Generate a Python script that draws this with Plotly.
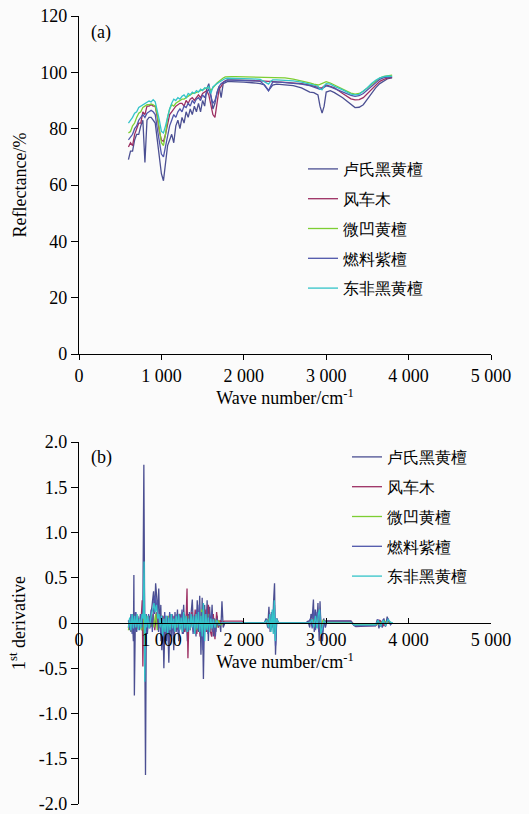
import plotly.graph_objects as go

# ---------------- data: (a) reflectance ----------------
wave = [600, 625, 650, 675, 700, 725, 750, 775, 800, 825, 850, 875, 900, 925, 950, 975,
        1000, 1025, 1050, 1075, 1100, 1125, 1150, 1175, 1200, 1225, 1250, 1275, 1300, 1325,
        1350, 1375, 1400, 1425, 1450, 1475, 1500, 1525, 1550, 1575, 1600, 1625, 1650, 1675,
        1700, 1725, 1750, 1775, 1800,
        1850, 1900, 2000, 2100, 2200, 2250, 2300, 2325, 2350, 2400, 2500, 2600, 2700, 2800,
        2850, 2900, 2925, 2950, 2975, 3000, 3050, 3100, 3200, 3300, 3350, 3400, 3450, 3500,
        3550, 3600, 3650, 3700, 3750, 3800]

refl_lushi = [69, 72, 72, 76, 78, 78, 81, 83, 68, 83, 84, 84, 83, 82, 76, 70,
              64, 61.5, 68, 74, 76, 78, 75, 81, 83, 80, 84, 82, 86, 84,
              87, 85, 88, 86, 89, 86, 90, 88, 94, 96, 92, 87, 89, 93,
              95, 91, 96, 96.5, 96.7,
              96.7, 96.7, 96.5, 96.3, 96.0, 95.5, 93.5, 94.5, 95.5, 95.8, 95.5, 95.3, 94.5, 93,
              92.8, 92, 88, 85.5, 88, 93, 93.5, 92.8, 91, 88.5, 87.5, 87.6, 88.5, 90.5,
              92.5, 94.5, 96, 97, 97.8, 98]

refl_fengche = [73.5, 75, 74, 78, 80, 82, 82, 86, 85, 88, 88, 88.5, 88, 88, 84, 79,
                76, 75.5, 78, 82, 85, 86, 87, 88, 88.5, 89, 89, 88, 90, 89,
                90.5, 91, 90, 91, 92, 91, 92.5, 93, 93.5, 92, 89, 85, 84, 90,
                94, 95, 96.5, 97, 97.3,
                97.3, 97.3, 97.2, 97.1, 97, 96.8, 96.8, 96.8, 96.7, 96.6, 96.4, 96.2, 96, 95.5,
                95, 94.5, 94.5, 94.6, 95, 95.5, 95, 94.5, 92.5, 90.6, 90.2, 90.3, 91, 92.5,
                94, 95.5, 96.8, 97.5, 98, 98.2]

refl_weiao = [78.5, 79, 81, 82, 84, 85.5, 86, 87.5, 88, 88.5, 88.5, 88.8, 88.5, 88, 85, 80,
              75, 74, 78, 84, 87, 88.5, 88, 89, 89.5, 90, 90.5, 90.5, 91, 91.5,
              92, 92.5, 92.5, 93, 93.2, 93.5, 93.8, 94.2, 94.5, 94.5, 93.5, 94.5, 95.5, 96.2,
              96.8, 97.5, 98, 98.4, 98.5,
              98.5, 98.5, 98.4, 98.4, 98.3, 98.3, 98.3, 98.3, 98.3, 98.2, 98, 97.6, 97, 96.3,
              95.8, 95.5, 95.7, 96, 96.5, 96.7, 96.2, 95.5, 94, 92.6, 92.3, 92.5, 93.3, 94.5,
              95.8, 97, 98, 98.6, 98.9, 99]

refl_ranliao = [76, 77, 78, 80, 81, 83, 84, 85, 84, 85.5, 86, 86.5, 86, 85, 80, 75,
                71, 70, 74, 78, 81, 83, 85, 84, 86, 87, 86, 88, 87.5, 89,
                88, 90, 89, 90.5, 91, 90, 92, 91, 93, 94, 91, 89, 90, 93,
                95, 96, 96.5, 97, 97.2,
                97.2, 97.2, 97.1, 97, 96.8, 95.5, 93.5, 95, 96.5, 96.6, 96.4, 96.1, 95.8, 95.3,
                94.8, 94.3, 94, 94.2, 94.6, 95.2, 94.8, 94.2, 93, 91.8, 91.5, 91.7, 92.5, 93.8,
                95.2, 96.5, 97.5, 98.1, 98.4, 98.5]

refl_dongfei = [82, 83, 84, 85.5, 86, 87.5, 88, 88.5, 89, 89.5, 89.8, 89.5, 90.3, 89.5, 86.5, 83,
                79, 78.5, 81, 84.5, 87, 89, 90.5, 90, 91, 90.5, 91.5, 92, 91, 92.5,
                92, 93, 92.5, 93.5, 93, 94, 93.5, 94.5, 94.3, 95, 92.5, 94.8, 95.5, 96,
                96.5, 97, 97.5, 97.8, 97.9,
                97.9, 97.9, 97.8, 97.7, 97.5, 96.5, 95.8, 96.8, 97.3, 97.3, 97.2, 97, 96.5, 96,
                95.5, 95, 94, 93.8, 95.2, 96, 95.8, 95, 93.8, 92.3, 92, 92.2, 93.2, 94.5,
                96, 97.2, 98, 98.5, 98.7, 98.6]

# ---------------- data: (b) first derivative (wave number, value) ----------------
deriv_lushi = [(600, -0.05), (615, 0.05), (630, -0.1), (645, 0.1), (660, -0.2), (666, 0.53),
               (672, -0.8), (685, 0.12), (700, -0.1), (715, 0.08), (730, -0.05), (745, 0.1),
               (760, -0.08), (775, 0.15), (787, 1.75), (797, 0.2), (807, -1.68), (817, 0.1),
               (830, -0.12), (845, 0.08), (860, -0.06), (875, 0.1), (890, 0.2), (905, 0.35),
               (918, 0.1), (930, 0.44), (942, 0.3), (955, 0.1), (968, 0.38), (980, -0.05),
               (993, 0.2), (1005, -0.3), (1018, 0.05), (1030, -0.5), (1045, 0.08), (1060, -0.2),
               (1075, 0.05), (1090, -0.44), (1105, 0.1), (1120, -0.15), (1135, 0.08), (1150, -0.3),
               (1165, 0.12), (1180, -0.1), (1195, 0.15), (1210, -0.2), (1225, 0.1), (1240, 0.05),
               (1255, -0.12), (1270, 0.2), (1285, -0.1), (1300, 0.08), (1315, -0.2), (1330, 0.1),
               (1345, -0.05), (1360, 0.12), (1375, 0.26), (1390, -0.1), (1405, 0.05), (1420, -0.15),
               (1435, 0.25), (1450, -0.1), (1465, 0.3), (1480, -0.35), (1495, 0.28), (1510, -0.62),
               (1525, 0.2), (1540, -0.1), (1555, 0.25), (1570, -0.2), (1585, 0.18), (1600, -0.08),
               (1615, 0.2), (1630, -0.15), (1645, 0.05), (1660, -0.1), (1675, 0.08), (1690, -0.05),
               (1705, 0.02), (1720, -0.1), (1735, 0.24), (1750, -0.05), (1770, 0.0), (1800, 0.0),
               (2250, 0.0), (2270, 0.05), (2290, -0.05), (2305, 0.18), (2320, -0.1), (2335, 0.12),
               (2350, -0.05), (2362, 0.25), (2373, 0.44), (2385, -0.35), (2400, 0.05), (2420, 0.0),
               (2750, 0.0), (2780, 0.02), (2800, -0.05), (2815, 0.1), (2830, 0.05), (2845, 0.26),
               (2855, -0.1), (2870, 0.15), (2885, -0.05), (2900, 0.22), (2915, -0.2), (2925, 0.24),
               (2940, -0.15), (2955, -0.2), (2970, 0.05), (2990, -0.05), (3010, 0.02), (3300, 0.02),
               (3330, -0.02), (3360, -0.04), (3600, -0.03), (3620, 0.04), (3640, -0.06), (3660, 0.03),
               (3680, -0.05), (3700, 0.05), (3720, -0.04), (3740, 0.07), (3760, 0.0), (3800, 0.0)]

deriv_fengche = [(600, 0.02), (620, -0.05), (640, 0.06), (660, -0.04), (680, 0.05), (700, -0.06),
                 (720, 0.04), (740, -0.03), (755, 0.05), (767, 0.25), (775, -0.48), (785, 0.1),
                 (800, -0.1), (820, 0.06), (840, -0.05), (860, 0.08), (880, -0.04), (900, 0.1),
                 (920, -0.08), (940, 0.12), (960, -0.06), (980, 0.05), (1000, -0.1), (1020, 0.08),
                 (1040, -0.12), (1060, 0.06), (1080, -0.08), (1100, 0.1), (1120, -0.06), (1140, 0.08),
                 (1160, -0.1), (1180, 0.05), (1200, -0.08), (1220, 0.1), (1240, -0.05), (1260, 0.12),
                 (1280, -0.1), (1300, 0.05), (1311, 0.38), (1322, -0.39), (1335, 0.1), (1350, -0.08),
                 (1370, 0.12), (1390, -0.1), (1410, 0.15), (1430, -0.12), (1450, 0.1), (1470, -0.15),
                 (1490, 0.12), (1510, -0.2), (1530, 0.15), (1550, -0.1), (1570, 0.2), (1590, -0.08),
                 (1610, -0.15), (1630, 0.1), (1650, -0.18), (1670, 0.12), (1690, -0.05), (1710, 0.03),
                 (1740, 0.0), (1760, 0.02), (1980, 0.02), (2000, 0.0), (2250, 0.0), (2300, 0.03),
                 (2330, -0.05), (2360, 0.08), (2380, -0.1), (2400, 0.02), (2420, 0.0), (2800, 0.0),
                 (2830, 0.05), (2860, -0.05), (2890, 0.08), (2920, -0.08), (2950, -0.05), (2980, 0.02),
                 (3300, 0.02), (3350, -0.03), (3600, -0.03), (3650, 0.03), (3700, -0.03), (3750, 0.02),
                 (3800, 0.0)]

deriv_weiao = [(600, -0.08), (620, 0.05), (640, -0.1), (660, 0.08), (680, -0.05), (700, 0.1),
               (720, -0.06), (740, 0.05), (760, -0.08), (780, 0.12), (795, -0.15), (810, 0.08),
               (830, -0.05), (850, 0.06), (870, -0.04), (890, 0.08), (910, -0.05), (930, 0.1),
               (950, -0.08), (970, 0.05), (990, -0.06), (1010, 0.08), (1030, -0.1), (1050, 0.06),
               (1070, -0.05), (1090, 0.08), (1110, -0.06), (1130, 0.05), (1150, -0.08), (1170, 0.06),
               (1190, -0.05), (1210, 0.07), (1230, -0.06), (1250, 0.05), (1270, -0.08), (1290, 0.06),
               (1310, -0.05), (1330, 0.08), (1350, -0.06), (1370, 0.07), (1390, -0.05), (1410, 0.06),
               (1430, -0.08), (1450, 0.1), (1470, -0.06), (1490, 0.15), (1510, -0.1), (1530, 0.08),
               (1550, -0.06), (1570, 0.1), (1590, -0.05), (1610, 0.05), (1630, -0.08), (1650, 0.04),
               (1670, -0.05), (1690, 0.03), (1720, -0.02), (1750, 0.0), (2250, 0.0), (2300, 0.04),
               (2330, -0.06), (2360, 0.08), (2380, -0.08), (2400, 0.02), (2420, 0.0), (2800, 0.0),
               (2840, 0.04), (2870, -0.04), (2900, 0.05), (2930, -0.06), (2960, 0.03), (3000, 0.01),
               (3300, 0.01), (3350, -0.02), (3600, -0.02), (3700, 0.02), (3800, 0.0)]

deriv_ranliao = [(600, 0.03), (615, -0.08), (630, 0.1), (645, -0.12), (660, 0.08), (675, -0.1),
                 (690, 0.12), (705, -0.06), (720, 0.05), (735, -0.08), (750, 0.1), (765, -0.05),
                 (780, 0.2), (792, 0.5), (802, -0.45), (815, 0.05), (830, -0.08), (845, 0.1),
                 (860, -0.05), (875, 0.15), (890, -0.1), (905, 0.2), (920, 0.3), (935, 0.15),
                 (950, 0.25), (965, -0.1), (980, 0.1), (995, -0.2), (1010, 0.08), (1025, -0.25),
                 (1040, 0.12), (1055, -0.15), (1070, 0.08), (1085, -0.2), (1100, 0.12), (1115, -0.08),
                 (1130, 0.1), (1145, -0.15), (1160, 0.08), (1175, -0.05), (1190, 0.1), (1205, -0.12),
                 (1220, 0.08), (1235, -0.06), (1250, 0.15), (1265, -0.12), (1280, 0.1), (1295, -0.08),
                 (1310, 0.06), (1325, -0.1), (1340, 0.12), (1355, -0.05), (1370, 0.1), (1385, -0.12),
                 (1400, 0.08), (1415, -0.1), (1430, 0.15), (1445, -0.08), (1460, 0.2), (1475, -0.15),
                 (1490, 0.12), (1505, -0.3), (1520, 0.1), (1535, -0.08), (1550, 0.15), (1565, -0.12),
                 (1580, 0.1), (1595, -0.05), (1610, 0.12), (1625, -0.1), (1640, 0.05), (1655, -0.15),
                 (1670, 0.05), (1690, -0.03), (1720, 0.0), (2250, 0.0), (2280, 0.04), (2300, -0.06),
                 (2315, 0.1), (2330, -0.08), (2345, 0.12), (2360, -0.1), (2372, 0.2), (2385, -0.25),
                 (2400, 0.05), (2420, 0.0), (2780, 0.0), (2810, 0.05), (2830, -0.06), (2850, 0.15),
                 (2870, -0.08), (2890, 0.12), (2910, -0.1), (2925, 0.15), (2945, -0.15), (2965, -0.05),
                 (2990, 0.02), (3300, 0.02), (3340, -0.03), (3600, -0.03), (3630, 0.04), (3660, -0.04),
                 (3690, 0.04), (3720, -0.03), (3750, 0.05), (3780, -0.02), (3800, 0.0)]

deriv_dongfei = [(600, -0.05), (615, 0.06), (630, -0.08), (645, 0.1), (660, -0.06), (675, 0.08),
                 (690, -0.05), (705, 0.1), (720, -0.08), (735, 0.05), (750, -0.06), (765, 0.1),
                 (780, 0.05), (790, 0.68), (798, -0.65), (808, 0.1), (820, -0.05), (835, 0.08),
                 (850, -0.06), (865, 0.05), (880, 0.1), (895, 0.15), (910, 0.22), (925, 0.12),
                 (940, 0.2), (955, 0.05), (970, 0.1), (985, -0.05), (1000, 0.08), (1015, -0.15),
                 (1030, 0.05), (1045, -0.1), (1060, 0.08), (1075, -0.12), (1090, 0.06), (1105, -0.08),
                 (1120, 0.1), (1135, -0.06), (1150, 0.05), (1165, -0.1), (1180, 0.08), (1195, -0.05),
                 (1210, 0.1), (1225, -0.08), (1240, 0.06), (1255, -0.1), (1270, 0.12), (1285, -0.06),
                 (1300, 0.08), (1315, -0.1), (1330, 0.05), (1345, -0.08), (1360, 0.1), (1375, -0.05),
                 (1390, 0.08), (1405, -0.12), (1420, 0.1), (1435, -0.06), (1450, 0.12), (1465, -0.1),
                 (1480, 0.08), (1495, -0.15), (1510, 0.22), (1525, -0.2), (1540, 0.1), (1555, -0.08),
                 (1570, 0.06), (1585, -0.1), (1600, 0.05), (1615, -0.06), (1630, 0.04), (1650, -0.05),
                 (1670, 0.03), (1700, -0.02), (1730, 0.0), (2250, 0.0), (2280, 0.03), (2300, -0.05),
                 (2315, 0.1), (2330, -0.1), (2345, 0.15), (2358, -0.12), (2370, 0.25), (2382, -0.2),
                 (2395, 0.05), (2420, 0.0), (2800, 0.0), (2830, 0.04), (2850, -0.05), (2870, 0.08),
                 (2890, -0.06), (2905, 0.1), (2920, 0.15), (2935, -0.12), (2950, -0.05), (2970, 0.02),
                 (3000, 0.0), (3300, 0.0), (3340, -0.02), (3600, -0.02), (3630, 0.03), (3660, -0.04),
                 (3690, 0.03), (3720, -0.03), (3750, 0.04), (3780, 0.01), (3810, 0.0)]

names = ["卢氏黑黄檀", "风车木", "微凹黄檀", "燃料紫檀", "东非黑黄檀"]
colors = ["#4b4f92", "#9c2f62", "#7dce33", "#4f56aa", "#33c4c9"]

x_tickvals = [0, 1000, 2000, 3000, 4000, 5000]
x_ticktext = ["0", "1 000", "2 000", "3 000", "4 000", "5 000"]
y1_tickvals = [0, 20, 40, 60, 80, 100, 120]
y2_tickvals = [-2.0, -1.5, -1.0, -0.5, 0, 0.5, 1.0, 1.5, 2.0]
y2_ticktext = ["-2.0", "-1.5", "-1.0", "-0.5", "0", "0.5", "1.0", "1.5", "2.0"]

# ---------------- figure ----------------
FONT = "Times New Roman"
W, H = 529, 814
ML, MR, MT, MB = 79, 38, 16, 10
plot_h = H - MT - MB

def py2paper(py):
    return 1 - (py - MT) / plot_h

top_dom = [py2paper(354), 1.0]
bot_dom = [0.0, py2paper(442)]

fig = go.Figure()

refl = [refl_lushi, refl_fengche, refl_weiao, refl_ranliao, refl_dongfei]
for i, (n, c, ys) in enumerate(zip(names, colors, refl)):
    fig.add_trace(go.Scatter(x=wave, y=ys, mode="lines", name=n,
                             line=dict(color=c, width=1.3),
                             xaxis="x", yaxis="y", legend="legend",
                             legendgroup="a%d" % i))

derivs = [deriv_lushi, deriv_fengche, deriv_weiao, deriv_ranliao, deriv_dongfei]
for i, (n, c, d) in enumerate(zip(names, colors, derivs)):
    fig.add_trace(go.Scatter(x=[p[0] for p in d], y=[p[1] for p in d], mode="lines", name=n,
                             line=dict(color=c, width=1.3),
                             xaxis="x2", yaxis="y2", legend="legend2",
                             legendgroup="b%d" % i))

axis_common = dict(showgrid=False, zeroline=False, showline=True, linecolor="black",
                   linewidth=1.2, tickcolor="black", tickwidth=1.2, automargin=False,
                   ticklabeloverflow="allow",
                   tickfont=dict(family=FONT, size=18, color="black"))

fig.update_layout(
    width=W, height=H,
    margin=dict(l=ML, r=MR, t=MT, b=MB),
    paper_bgcolor="#fbfbfb", plot_bgcolor="#fbfbfb",
    font=dict(family=FONT, size=16, color="black"),
    xaxis=dict(domain=[0, 1], range=[0, 5000], anchor="y", tickvals=x_tickvals,
               ticktext=x_ticktext, ticks="outside", ticklen=5,
               title=dict(text="Wave number/cm<sup>-1</sup>", standoff=6,
                          font=dict(family=FONT, size=18)),
               **axis_common),
    yaxis=dict(domain=top_dom, range=[0, 120], anchor="x", tickvals=y1_tickvals,
               ticks="outside", ticklen=7,
               title=dict(text="Reflectance/%", standoff=8, font=dict(family=FONT, size=18)),
               **axis_common),
    xaxis2=dict(domain=[0, 1], range=[0, 5000], anchor="free",
                position=(bot_dom[0] + bot_dom[1]) / 2,
                tickvals=x_tickvals, ticktext=x_ticktext, ticks="inside", ticklen=5,
                title=dict(text="Wave number/cm<sup>-1</sup>", standoff=2,
                           font=dict(family=FONT, size=18)),
                **axis_common),
    yaxis2=dict(domain=bot_dom, range=[-2, 2], anchor="x2", tickvals=y2_tickvals,
                ticktext=y2_ticktext, ticks="outside", ticklen=7,
                title=dict(text="1<sup>st</sup> derivative", standoff=8,
                           font=dict(family=FONT, size=18)),
                **axis_common),
    legend=dict(x=(303 - ML) / (W - ML - MR), y=py2paper(152), xanchor="left", yanchor="top",
                bgcolor="rgba(0,0,0,0)", tracegroupgap=6,
                font=dict(family=FONT, size=16, color="black")),
    legend2=dict(x=(347 - ML) / (W - ML - MR), y=py2paper(440), xanchor="left", yanchor="top",
                 bgcolor="rgba(0,0,0,0)", tracegroupgap=6,
                 font=dict(family=FONT, size=16, color="black")),
    annotations=[
        dict(text="(a)", x=120, y=114, xref="x", yref="y", showarrow=False,
             xanchor="left", font=dict(family=FONT, size=18)),
        dict(text="(b)", x=120, y=1.83, xref="x2", yref="y2", showarrow=False,
             xanchor="left", font=dict(family=FONT, size=18)),
    ],
)

fig.write_html("out.html", config={"displayModeBar": False},
               post_script="document.body.style.margin='0';")
